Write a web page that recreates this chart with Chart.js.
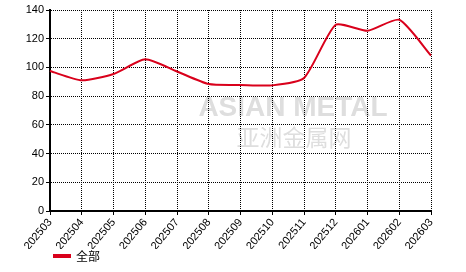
<!DOCTYPE html>
<html>
<head>
<meta charset="utf-8">
<script src="https://cdn.jsdelivr.net/npm/chart.js@4/dist/chart.umd.min.js"></script>
<style>
  html, body { margin: 0; padding: 0; background: #fff; }
  #wrap { width: 466px; height: 272px; }
</style>
</head>
<body>
<div id="wrap"><canvas id="grafica" width="466" height="272"></canvas></div>
<script>
var meses = ['202503', '202504', '202505', '202506', '202507', '202508', '202509',
             '202510', '202511', '202512', '202601', '202602', '202603'];
var valores = [97.5, 91, 95.4, 105.7, 97.2, 88.4, 87.8, 87.5, 92.6, 129.7, 125.5, 133.2, 108.3];
var serie = '全部';
var yMin = 0, yMax = 140, yPaso = 20;

// faint watermark like the original, under the grid
var marcaAgua = {
    id: 'marcaAgua',
    afterLayout: function (chart) {
        // legend sits under the plot, a little in from the left
        chart.legend.left += 53;
        chart.legend.right += 53;
    },
    beforeDraw: function (chart) {
        var c = chart.ctx, a = chart.chartArea;
        c.save();
        c.fillStyle = '#dedede';
        c.textAlign = 'center';
        c.textBaseline = 'middle';
        c.font = 'bold 28px "Liberation Sans", Arial, sans-serif';
        c.fillText('ASIAN METAL', a.left + 243, a.top + 98);
        c.font = '23px "Noto Sans CJK SC", sans-serif';
        c.fillText('亚洲金属网', a.left + 244, a.top + 127);
        c.restore();
    }
};

var ctx = document.getElementById('grafica').getContext('2d');
var myChart = new Chart(ctx, {
    type: 'line',
    data: {
        labels: meses,
        datasets: [{
            label: serie,
            data: valores,
            borderColor: '#d9001b',
            backgroundColor: '#d9001b',
            borderWidth: 2,
            pointRadius: 0,
            tension: 0.2,
            fill: false
        }]
    },
    plugins: [marcaAgua],
    options: {
        responsive: false,
        animation: false,
        layout: { padding: { top: 10, right: 35, left: 0, bottom: 0 } },
        plugins: {
            tooltip: { enabled: false },
            legend: {
                position: 'bottom',
                align: 'start',
                labels: {
                    boxWidth: 16,
                    boxHeight: 2,
                    padding: 1,
                    color: '#000',
                    font: { family: '"Noto Sans CJK SC", sans-serif', size: 12 }
                }
            }
        },
        scales: {
            x: {
                offset: false,
                afterFit: function (s) { s.height = 38; },
                grid: { color: '#000', lineWidth: 1, tickLength: 4, tickColor: '#000' },
                border: { color: '#000', width: 2, dash: [1, 1] },
                ticks: {
                    color: '#000',
                    autoSkip: false,
                    maxRotation: 50,
                    minRotation: 50,
                    padding: 1,
                    font: { family: '"Liberation Sans", Arial, sans-serif', size: 11 }
                }
            },
            y: {
                min: yMin,
                max: yMax,
                afterFit: function (s) { s.width = 50; },
                grid: { color: '#000', lineWidth: 1, tickLength: 4, tickColor: '#000' },
                border: { color: '#000', width: 2, dash: [1, 1] },
                ticks: {
                    stepSize: yPaso,
                    color: '#000',
                    padding: 2,
                    font: { family: '"Liberation Sans", Arial, sans-serif', size: 11 }
                }
            }
        }
    }
});
</script>
</body>
</html>
